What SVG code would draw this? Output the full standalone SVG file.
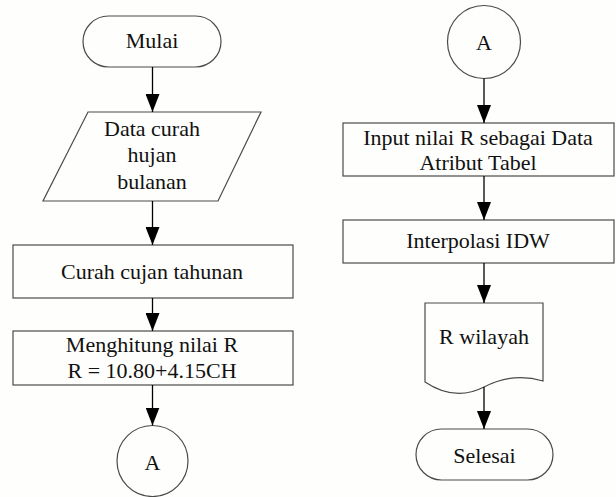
<svg xmlns="http://www.w3.org/2000/svg" width="616" height="497" viewBox="0 0 616 497">
  <style>
    .shape { fill: none; stroke: #4a4a4a; stroke-width: 1.2; }
    .label { font-family: "Liberation Serif", "Times New Roman", serif; font-size: 22px; fill: #111; text-anchor: middle; }
    .conn { stroke: #000; stroke-width: 1.3; fill: none; marker-end: url(#arrow); }
  </style>
  <defs>
    <!-- filled triangular arrowhead, tip at the end of the line -->
    <marker id="arrow" markerUnits="userSpaceOnUse" markerWidth="18" markerHeight="14" viewBox="0 0 18 14" refX="18" refY="7" orient="auto">
      <path d="M0,0 L18,7 L0,14 Z" fill="#000"/>
    </marker>
  </defs>
  <rect x="0" y="0" width="616" height="497" fill="#fefefc"/>

  <!-- left column -->
  <g id="mulai">
    <rect class="shape" x="83" y="16" width="138" height="51" rx="25.5" ry="25.5"/>
    <text class="label" x="152" y="48">Mulai</text>
  </g>
  <g id="data-curah-hujan">
    <polygon class="shape" points="88,112 261,112 218,201 43,201"/>
    <text class="label" x="152" y="136">Data curah</text>
    <text class="label" x="152" y="162">hujan</text>
    <text class="label" x="152" y="189">bulanan</text>
  </g>
  <g id="curah-tahunan">
    <rect class="shape" x="13" y="245" width="280" height="53"/>
    <text class="label" x="152" y="279">Curah cujan tahunan</text>
  </g>
  <g id="hitung-r">
    <rect class="shape" x="13" y="331" width="280" height="54"/>
    <text class="label" x="152" y="352">Menghitung nilai R</text>
    <text class="label" x="152" y="378">R = 10.80+4.15CH</text>
  </g>
  <g id="konektor-a-keluar">
    <circle class="shape" cx="152.5" cy="461" r="35.5"/>
    <text class="label" x="152.5" y="470">A</text>
  </g>

  <!-- right column -->
  <g id="konektor-a-masuk">
    <circle class="shape" cx="484" cy="42" r="36.5"/>
    <text class="label" x="484" y="50">A</text>
  </g>
  <g id="input-nilai-r">
    <rect class="shape" x="343" y="123" width="271" height="53"/>
    <text class="label" x="478" y="145">Input nilai R sebagai Data</text>
    <text class="label" x="478" y="170">Atribut Tabel</text>
  </g>
  <g id="interpolasi-idw">
    <rect class="shape" x="343" y="220" width="271" height="43"/>
    <text class="label" x="478" y="248">Interpolasi IDW</text>
  </g>
  <g id="r-wilayah">
    <path class="shape" d="M425,382 V303 H543 V381 Q513,372 484,387 Q455,402 425,382 Z"/>
    <text class="label" x="484" y="344">R wilayah</text>
  </g>
  <g id="selesai">
    <rect class="shape" x="416" y="429" width="137" height="51" rx="25.5" ry="25.5"/>
    <text class="label" x="484.5" y="463">Selesai</text>
  </g>

  <!-- connectors -->
  <g id="connectors">
    <line class="conn" x1="152.5" y1="67" x2="152.5" y2="112"/>
    <line class="conn" x1="152.5" y1="201" x2="152.5" y2="245"/>
    <line class="conn" x1="152.5" y1="298" x2="152.5" y2="331"/>
    <line class="conn" x1="152.5" y1="385" x2="152.5" y2="425.5"/>
    <line class="conn" x1="484" y1="78.5" x2="484" y2="123"/>
    <line class="conn" x1="484" y1="176" x2="484" y2="220"/>
    <line class="conn" x1="484" y1="263" x2="484" y2="303"/>
    <line class="conn" x1="484" y1="387" x2="484" y2="429"/>
  </g>
</svg>
